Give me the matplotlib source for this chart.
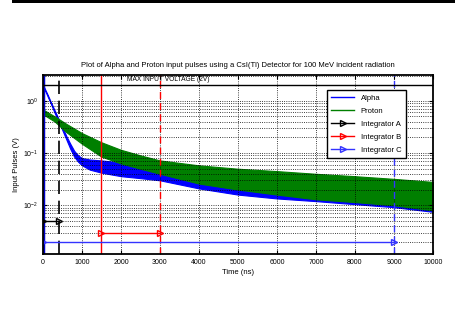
import matplotlib
matplotlib.use('Agg')
import matplotlib.pyplot as plt
from matplotlib.patches import Rectangle

plt.rcParams['font.family'] = ['Liberation Sans', 'DejaVu Sans']

# alpha pulse, read as upper / lower edge of the noisy trace
alpha_t = [0, 100, 200, 300, 400, 500, 600, 700, 800, 900, 1000, 1200, 1500,
           2000, 2500, 3000, 4000, 5000, 6000, 7000, 8000, 9000, 10000]
alpha_hi = [2.0, 1.4, 0.95, 0.65, 0.45, 0.31, 0.21, 0.15, 0.11, 0.09, 0.08, 0.075, 0.072,
            0.066, 0.062, 0.058, 0.05, 0.044, 0.04, 0.036, 0.032, 0.029, 0.026]
alpha_lo = [1.9, 1.3, 0.88, 0.58, 0.40, 0.27, 0.18, 0.12, 0.085, 0.068, 0.058, 0.048, 0.042,
            0.036, 0.033, 0.030, 0.021, 0.016, 0.0135, 0.012, 0.0105, 0.0092, 0.0075]

# proton pulse
proton_t = [0, 300, 600, 1000, 1500, 2000, 2500, 3000, 4000, 5000, 6000, 7000, 8000, 9000, 10000]
proton_hi = [0.68, 0.5, 0.36, 0.24, 0.16, 0.115, 0.09, 0.072, 0.058, 0.05, 0.045, 0.04, 0.036, 0.032, 0.028]
proton_lo = [0.55, 0.4, 0.25, 0.15, 0.085, 0.063, 0.05, 0.04, 0.026, 0.02, 0.016, 0.013, 0.0115, 0.01, 0.008]

# integration windows (ns) and the level they are marked at (V)
int_a = [0, 400]
int_b = [1500, 3000]
int_c = [0, 9000]
level_a, level_b, level_c = 0.005, 0.003, 0.002
max_v = 2.0

fig = plt.figure(figsize=(4.55, 3.29), dpi=100)
ax = fig.add_axes([0.0945, 0.228, 0.857, 0.544])

ax.set_yscale('log')
ax.set_xlim(0, 10000)
ax.set_ylim(0.00117, 3.1)

ax.fill_between(alpha_t, alpha_lo, alpha_hi, color='#0000ff', lw=0.8, edgecolor='#0000ff')
ax.fill_between(proton_t, proton_lo, proton_hi, color='#007f00', lw=0.8, edgecolor='#007f00')
# legend handles
ax.plot([], [], color='#0000ff', lw=1, label='Alpha')
ax.plot([], [], color='#007f00', lw=1, label='Proton')

# window markers
ax.axvline(int_a[1], color='black', ls=(0, (8, 4)), lw=1.2)
ax.axvline(int_b[0], color='red', lw=1)
ax.axvline(int_b[1], color='red', ls=(0, (5, 3)), lw=1)
ax.axvline(int_c[1], color='#3333ff', ls=(0, (5, 3)), lw=1)
ax.axvline(int_c[0], color='#0000cc', lw=2.5)

ax.plot(int_a, [level_a, level_a], color='black', marker='>', mfc='none', ms=4, lw=1, label='Integrator A')
ax.plot(int_b, [level_b, level_b], color='red', marker='>', mfc='none', ms=4, lw=1, label='Integrator B')
ax.plot(int_c, [level_c, level_c], color='#3333ff', marker='>', mfc='none', ms=4, lw=1, label='Integrator C')

ax.axhline(max_v, color='black', lw=1)
ax.text(2150, 2.15, 'MAX INPUT VOLTAGE (2V)', fontsize=4.8, va='bottom')

ax.grid(True, which='major', color='black', ls=':', lw=0.6)
ax.grid(True, which='minor', axis='y', color='black', ls=':', lw=0.6)
ax.set_xticks(range(0, 10001, 1000))
ax.tick_params(which='both', direction='in', top=True, right=True, labelsize=5)
ax.tick_params(which='major', length=3)
ax.tick_params(which='minor', length=1.5)
for s in ax.spines.values():
    s.set_linewidth(1.3)

ax.set_xlabel('Time (ns)', fontsize=5.5, labelpad=2)
ax.set_ylabel('Input Pulses (V)', fontsize=5.5, labelpad=2)
ax.set_title('Plot of Alpha and Proton input pulses using a CsI(Tl) Detector for 100 MeV incident radiation',
             fontsize=5.5, pad=6)

leg = ax.legend(loc='upper right', bbox_to_anchor=(0.94, 0.94), fontsize=5.5, fancybox=False,
                edgecolor='black', framealpha=1, handlelength=3, labelspacing=0.75, borderpad=0.6)
leg.get_frame().set_linewidth(1)

fig.add_artist(Rectangle((12 / 455, 1 - 3 / 329), 1, 3 / 329, transform=fig.transFigure,
                         color='black', lw=0))

fig.savefig('out.png', dpi=100)
